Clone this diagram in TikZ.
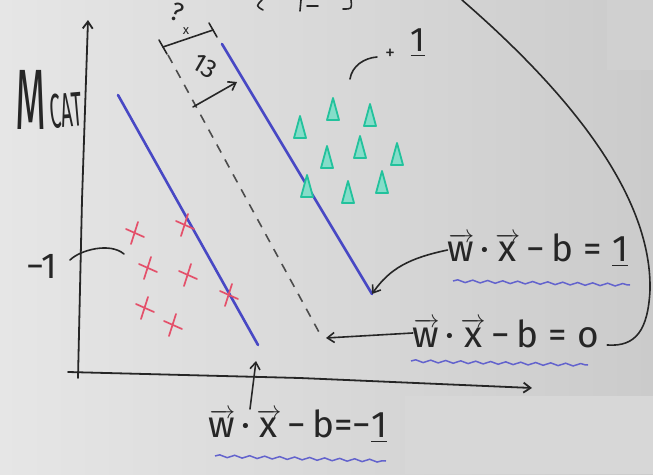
\documentclass[tikz,border=0pt]{standalone}
\usepackage{amsmath}
\usepackage{fontspec}
\setsansfont{Fira Sans}
\usetikzlibrary{arrows.meta,decorations.pathmorphing,calc}

\definecolor{boardL}{HTML}{E6E6E6}
\definecolor{boardR}{HTML}{CBCBCB}
\definecolor{marginblue}{HTML}{4848C4}
\definecolor{crossred}{HTML}{E4506A}
\definecolor{trigreen}{HTML}{22C29C}

\newcommand{\hv}[1]{\ensuremath{\overrightarrow{\text{#1}}}}
\newcommand{\margeq}[1]{\hv{w}\,·\,\hv{x}\,−\,b\;=\;#1}

\begin{document}
\begin{tikzpicture}[
  x=1pt, y=-1pt,
  font=\sffamily,
  >={Straight Barb[length=7pt,width=10pt]},
  ink/.style={line width=1.6pt, draw=black!85, line cap=round, line join=round},
  axis/.style={ink, line width=1.8pt, ->},
  lead/.style={ink, ->},
  margin/.style={line width=2.6pt, draw=marginblue, line cap=round},
  hyper/.style={line width=1.6pt, draw=black!70, dash pattern=on 9pt off 8pt},
  wave/.style={line width=1.5pt, draw=marginblue!85, decorate, decoration={snake, amplitude=1.3pt, segment length=15pt}},
  eqn/.style={font=\sffamily\fontsize{37}{37}\selectfont, inner sep=0pt, text=black!85},
  hand/.style={inner sep=0pt, text=black!85},
  xmark/.pic={\draw[line width=1.7pt, draw=crossred, line cap=round] (-9,-4) -- (9,4) (3,-11) -- (-4,11);},
  tmark/.pic={\filldraw[line width=1.8pt, draw=trigreen, fill=trigreen!55!white, line join=round] (0,-12) -- (-6,10) -- (6,10) -- cycle;}
]
\useasboundingbox (0,0) rectangle (653,474);
% ---------------- board ----------------
\shade[left color=boardL, right color=boardR] (0,0) rectangle (653,474);
\fill[boardR!90!white] (607,0) rectangle (653,70);
\fill[boardL!45!boardR] (405,396) rectangle (653,474);

% cut-off writing at the top edge
\draw[ink] (262,0) .. controls (256,6) .. (263,10);
\draw[ink] (301,0) -- (300,11);
\draw[ink] (307,6) -- (318,6);
\draw[ink] (343,9) .. controls (352,9) .. (351,0);

% ---------------- axes ----------------
\coordinate (ytop) at (88,20);
\coordinate (xend) at (532,388);
\draw[axis] (78,378) -- (82,200) -- (ytop);
\draw[axis] (68,372) -- (300,378) -- (xend);
\node[hand, font=\sffamily\fontsize{66}{66}\selectfont] (mlab) at (31,100) {\scalebox{0.6}[1.3]{M}};
\node[hand, font=\sffamily\fontsize{36}{36}\selectfont, rotate=5, anchor=west] (catlab) at (50,112) {\scalebox{0.55}[1.35]{CAT}};

% ---------------- margins and boundary ----------------
\coordinate (ltop) at (118,95);
\coordinate (lbot) at (258,345);
\coordinate (htop) at (168,55);
\coordinate (hbot) at (320,334);
\coordinate (rtop) at (222,44);
\coordinate (rbot) at (372,294);
\draw[margin] (ltop) -- (lbot);
\draw[hyper] (htop) -- (hbot);
\draw[margin] (rtop) -- (rbot);

% distance marks
\coordinate (d1) at (163,47);
\coordinate (d2) at (213,30);
\draw[ink] (d1) -- (d2);
\draw[ink] ($(d1)+(-4,-7)$) -- ($(d1)+(4,7)$);
\draw[ink] ($(d2)+(-4,-7)$) -- ($(d2)+(4,7)$);
\node[hand, font=\sffamily\fontsize{26}{26}\selectfont, rotate=-20] (qlab) at (177,12) {?};
\node[hand, font=\sffamily\fontsize{13}{13}\selectfont] (qx) at (186,31) {x};
\coordinate (a1) at (193,107);
\coordinate (a2) at (237,82);
\draw[lead] (a1) -- (a2);
\node[hand, font=\sffamily\fontsize{26}{26}\selectfont, rotate=-30] (dlab) at (205,66) {13};

% ---------------- classes ----------------
\foreach \px/\py in {135/233, 185/225, 148/268, 188/275, 229/295, 145/308, 173/325}
  \pic at (\px,\py) {xmark};
\foreach \px/\py in {333/110, 300/128, 370/116, 327/158, 360/148, 397/155, 307/187, 348/193, 382/183}
  \pic at (\px,\py) {tmark};

% class labels
\node[hand, font=\sffamily\fontsize{20}{20}\selectfont] (pplus) at (390,54) {+};
\node[hand, font=\sffamily\fontsize{34}{34}\selectfont] (pone) at (418,43) {\underline{1}};
\draw[ink] (350,79) .. controls (352,66) and (364,58) .. (377,57);
\node[hand, font=\sffamily\fontsize{36}{36}\selectfont] (mone) at (42,266) {−1};
\draw[ink] (70,260) .. controls (80,250) and (110,242) .. (124,254);

% ---------------- equations ----------------
\node[eqn] (eqp) at (538,250) {\margeq{\underline{1}}};
\node[eqn] (eqz) at (506,333) {\margeq{o}};
\node[eqn] (eqm) at (298,426) {\hv{w}\,·\,\hv{x}\,−\,b=−\underline{1}};
\draw[wave] (453,281) -- (630,285);
\draw[wave] (411,361) -- (588,365);
\draw[wave] (215,456) -- (386,461);
\draw[lead] (eqp.west) .. controls (410,258) and (390,268) .. (rbot);
\draw[lead] (eqz.west) -- ($(hbot)+(6,4)$);
\draw[lead] ([xshift=-48pt]eqm.north) -- ($(lbot)+(-2,16)$);
\coordinate (ctop) at (462,0);
\draw[ink] (ctop) .. controls (560,85) and (652,190) .. (650,290)
  .. controls (648,330) and (636,347) .. ($(eqz.east)+(8,12)$);
\end{tikzpicture}
\end{document}
